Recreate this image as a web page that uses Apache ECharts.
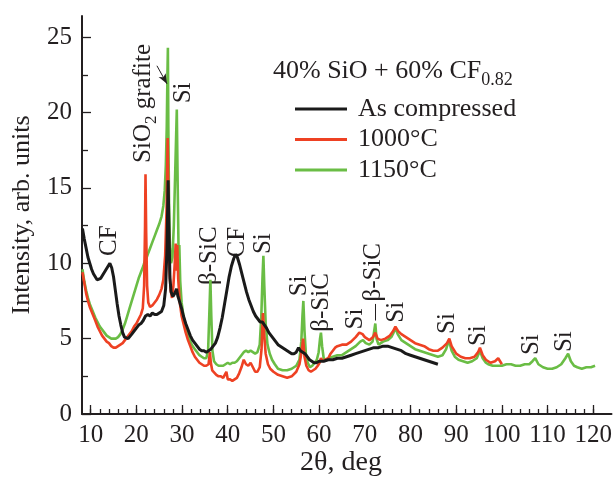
<!DOCTYPE html>
<html><head><meta charset="utf-8">
<script src="https://cdn.jsdelivr.net/npm/echarts@6/dist/echarts.min.js"></script>
<style>html,body{margin:0;padding:0;background:#fff}#c{width:615px;height:479px}</style>
</head><body><div id="c"></div>
<script>
// ---- data (2θ in degrees, intensity in arb. units) ----
const seriesNames = ['As compressed', '1000°C', '1150°C'];
const asCompressed = [[8.2,12.3],[8.6,11.6],[9.0,11.0],[9.4,10.4],[9.8,10.0],[10.2,9.6],[10.6,9.3],[11.0,9.1],[11.4,8.9],[11.8,8.8],[12.2,9.0],[12.6,9.2],[13.0,9.4],[13.4,9.5],[13.8,9.8],[14.2,10.0],[14.6,9.7],[15.0,9.1],[15.4,8.2],[15.8,7.3],[16.2,6.5],[16.6,5.9],[17.0,5.4],[17.4,5.1],[17.8,5.0],[18.2,5.0],[18.6,5.1],[19.0,5.3],[19.5,5.5],[20.0,5.7],[20.5,5.9],[21.0,6.0],[21.5,6.2],[22.0,6.5],[22.5,6.6],[23.0,6.5],[23.5,6.7],[24.0,6.6],[24.5,6.6],[25.0,6.7],[25.5,6.8],[26.0,7.2],[26.4,8.3],[26.7,11.0],[26.95,15.5],[27.15,12.0],[27.35,9.0],[27.6,8.1],[28.0,7.8],[28.4,8.0],[28.8,8.3],[29.1,7.8],[29.5,7.4],[29.9,7.0],[30.3,6.5],[30.8,6.0],[31.3,5.6],[31.8,5.2],[32.3,4.9],[32.8,4.7],[33.3,4.5],[33.8,4.3],[34.3,4.2],[34.8,4.2],[35.3,4.1],[35.8,4.2],[36.3,4.3],[36.8,4.5],[37.3,4.7],[37.8,5.1],[38.3,5.7],[38.8,6.4],[39.3,7.3],[39.8,8.2],[40.3,9.1],[40.8,9.8],[41.3,10.3],[41.7,10.6],[42.1,10.4],[42.6,9.9],[43.1,9.3],[43.6,8.7],[44.1,8.1],[44.6,7.6],[45.1,7.2],[45.6,6.8],[46.1,6.5],[46.6,6.3],[47.1,6.1],[47.6,6.1],[48.0,6.0],[48.5,5.7],[49.0,5.4],[49.5,5.2],[50.0,5.0],[50.5,4.8],[51.0,4.6],[51.5,4.5],[52.0,4.4],[52.5,4.3],[53.0,4.2],[53.5,4.1],[54.0,4.0],[54.5,4.0],[55.0,4.1],[55.5,4.4],[55.9,4.2],[56.4,4.1],[56.9,4.0],[57.4,3.8],[57.9,3.6],[58.4,3.5],[58.9,3.4],[59.4,3.4],[60.0,3.5],[61,3.5],[62,3.6],[63,3.6],[64,3.7],[65,3.7],[66,3.8],[67,3.9],[68,4.0],[69,4.1],[70,4.2],[71,4.3],[72,4.4],[73,4.4],[74,4.5],[75,4.5],[76,4.4],[77,4.3],[78,4.2],[79,4.0],[80,3.9],[81,3.8],[82,3.7],[83,3.6],[84,3.5],[85,3.4],[86,3.3]];
const annealed1000 = [[8.2,9.4],[8.6,8.7],[9.0,8.0],[9.4,7.5],[9.8,7.1],[10.2,6.8],[10.6,6.5],[11.0,6.2],[11.5,5.8],[12.0,5.5],[12.5,5.2],[13.0,5.0],[13.5,4.8],[14.0,4.7],[14.5,4.5],[15.0,4.4],[15.5,4.4],[16.0,4.5],[16.5,4.6],[17.0,4.7],[17.5,4.9],[18.0,5.1],[18.5,5.3],[19.0,5.5],[19.5,5.8],[20.0,6.0],[20.5,6.3],[21.0,6.6],[21.4,7.0],[21.7,8.5],[21.9,12.5],[22.0,15.9],[22.15,12.0],[22.35,8.5],[22.6,7.4],[23.0,7.1],[23.5,7.2],[24.0,7.4],[24.5,7.6],[25.0,7.9],[25.5,8.3],[25.9,8.9],[26.3,10.5],[26.6,13.5],[26.85,18.3],[27.05,13.0],[27.25,9.5],[27.5,8.2],[27.8,7.7],[28.1,8.5],[28.4,10.0],[28.6,11.3],[28.8,9.5],[28.95,11.2],[29.15,9.0],[29.5,7.4],[29.9,6.5],[30.3,6.0],[30.8,5.4],[31.3,4.9],[31.8,4.5],[32.3,4.1],[32.8,3.8],[33.3,3.6],[33.8,3.4],[34.3,3.3],[34.8,3.2],[35.3,3.2],[35.8,3.3],[36.1,4.1],[36.3,3.4],[36.6,2.9],[37.0,2.8],[37.5,2.6],[38.0,2.5],[38.5,2.5],[39.0,2.4],[39.4,2.4],[39.7,2.8],[40.0,2.3],[40.5,2.3],[41.0,2.2],[41.5,2.3],[42.0,2.4],[42.5,2.7],[43.0,3.1],[43.5,3.6],[44.0,3.3],[44.5,3.2],[45.0,3.4],[45.5,3.1],[46.0,2.8],[46.5,2.8],[47.0,3.1],[47.4,4.3],[47.7,6.7],[48.0,5.2],[48.3,4.0],[48.8,3.3],[49.3,3.0],[50.0,2.8],[51.0,2.6],[52.0,2.5],[53.0,2.4],[54.0,2.5],[55.0,2.8],[55.7,3.3],[56.2,4.2],[56.5,5.0],[56.8,3.8],[57.2,3.2],[57.7,2.9],[58.2,2.8],[58.7,2.9],[59.2,3.0],[59.7,3.2],[60.1,3.4],[60.4,3.7],[60.8,3.5],[61.3,3.6],[62.0,3.7],[62.5,4.0],[63.0,4.2],[63.5,4.4],[64.0,4.5],[65.0,4.6],[66.0,4.6],[67.0,4.8],[68.0,5.1],[68.8,5.4],[69.5,5.3],[70.0,5.1],[71.0,4.9],[71.8,5.1],[72.3,5.4],[72.8,5.0],[73.5,4.9],[74.5,5.0],[75.5,5.2],[76.2,5.5],[76.7,5.8],[77.3,5.5],[78.0,5.3],[79.0,5.1],[80.0,4.9],[81.0,4.7],[82.0,4.6],[83.0,4.5],[84.0,4.3],[85.0,4.2],[86.0,4.2],[87.0,4.4],[88.0,4.7],[88.5,5.0],[89.0,4.5],[90.0,4.0],[91.0,3.8],[92.0,3.7],[93.0,3.7],[94.0,3.8],[94.8,4.1],[95.2,4.4],[95.8,3.9],[96.5,3.6],[97.5,3.4],[98.5,3.5],[99.2,3.7],[100.0,3.3]];
const annealed1150 = [[8.2,9.6],[8.6,8.8],[9.0,8.2],[9.4,7.7],[9.8,7.3],[10.2,7.0],[10.6,6.7],[11.0,6.4],[11.5,6.1],[12.0,5.8],[12.5,5.6],[13.0,5.4],[13.5,5.2],[14.0,5.1],[14.5,5.0],[15.0,5.0],[15.5,5.0],[16.0,5.1],[16.5,5.3],[17.0,5.6],[17.5,6.0],[18.0,6.5],[18.5,7.0],[19.0,7.5],[19.5,8.0],[20.0,8.5],[20.5,9.0],[21.0,9.4],[21.5,9.8],[21.9,10.2],[22.0,10.9],[22.15,10.3],[22.5,10.6],[23.0,11.0],[23.5,11.4],[24.0,11.8],[24.5,12.2],[25.0,12.6],[25.5,13.1],[25.9,13.8],[26.2,14.8],[26.45,16.5],[26.65,19.0],[26.8,22.5],[26.9,24.3],[27.0,19.0],[27.15,14.0],[27.35,11.0],[27.6,10.0],[27.9,10.4],[28.2,12.5],[28.5,16.0],[28.85,20.2],[29.05,15.0],[29.25,10.5],[29.4,11.2],[29.6,8.8],[29.9,7.4],[30.3,6.5],[30.8,5.8],[31.3,5.2],[31.8,4.8],[32.3,4.5],[32.8,4.3],[33.3,4.1],[33.8,3.9],[34.3,3.8],[34.8,3.7],[35.3,3.7],[35.7,4.2],[35.95,6.5],[36.2,8.9],[36.4,6.5],[36.65,4.2],[37.0,3.5],[37.5,3.3],[38.0,3.2],[38.5,3.2],[39.0,3.2],[39.5,3.3],[40.0,3.4],[40.5,3.3],[41.0,3.4],[41.5,3.4],[42.0,3.5],[42.5,3.7],[43.0,3.9],[43.5,4.1],[44.0,4.2],[44.5,4.1],[45.0,4.2],[45.5,4.1],[46.0,4.0],[46.5,4.1],[47.0,4.6],[47.35,6.5],[47.6,9.0],[47.8,10.5],[48.0,8.5],[48.3,6.0],[48.7,4.6],[49.2,4.0],[49.7,3.6],[50.3,3.3],[51.0,3.0],[52.0,2.9],[53.0,2.9],[54.0,3.0],[55.0,3.2],[55.7,3.6],[56.1,4.8],[56.35,6.5],[56.55,7.5],[56.8,5.5],[57.1,4.0],[57.5,3.4],[58.0,3.1],[58.5,3.2],[59.0,3.4],[59.5,3.6],[59.9,4.1],[60.2,5.0],[60.4,5.4],[60.65,4.5],[61.0,3.7],[61.5,3.6],[62.0,3.7],[63.0,3.8],[64.0,3.9],[65.0,3.9],[66.0,4.1],[67.0,4.3],[68.0,4.5],[69.0,4.8],[69.6,4.9],[70.2,4.7],[71.0,4.6],[71.7,4.8],[72.05,5.5],[72.3,6.0],[72.55,5.0],[73.0,4.6],[74.0,4.8],[75.0,4.9],[75.8,5.1],[76.3,5.4],[76.7,5.7],[77.2,5.3],[78.0,4.9],[79.0,4.7],[80.0,4.5],[81.0,4.3],[82.0,4.2],[83.0,4.1],[84.0,4.0],[85.0,3.9],[86.0,3.8],[87.0,3.9],[87.8,4.3],[88.4,4.9],[89.0,4.2],[89.7,3.8],[90.5,3.6],[91.5,3.5],[92.5,3.4],[93.5,3.5],[94.5,3.7],[95.2,4.2],[95.8,3.7],[96.5,3.4],[97.0,3.3],[98.0,3.2],[99.0,3.2],[100.0,3.2],[101.0,3.3],[102.0,3.3],[103.0,3.2],[104.0,3.2],[105.0,3.3],[106.0,3.3],[106.7,3.5],[107.3,3.7],[108.0,3.3],[109.0,3.1],[110.0,3.0],[111.0,3.0],[112.0,3.1],[113.0,3.3],[113.9,3.7],[114.5,4.0],[115.1,3.5],[115.8,3.2],[116.5,3.1],[117.5,3.0],[118.5,3.1],[119.5,3.1],[120.4,3.2]];
const xTickLabels = [10,20,30,40,50,60,70,80,90,100,110,120];
const yTickLabels = [0,5,10,15,20,25];
const yMinorTicks = [2.5,7.5,12.5,17.5,22.5];
// peak annotations: [text, 2θ, intensity] (text centre)
const peakLabels = [
  ['CF',14.2,11.5],['Si',30.4,21.3],['β-SiC',36.0,10.5],['CF',42.1,11.4],['Si',47.8,11.3],
  ['Si',55.7,8.5],['β-SiC',60.5,7.4],['Si',67.9,6.3],['β-SiC',71.8,9.4],['Si',77.0,6.75],
  ['Si',88.0,6.0],['Si',94.8,5.2],['Si',106.4,4.6],['Si',113.8,4.8]
];
const sio2Label = ['SiO', '2', ' grafite', 21.5, 20.6];
const arrowFrom = [24.5, 23.1], arrowTo = [26.7, 21.9];
const leaderFrom = [72.35, 7.3], leaderTo = [72.35, 6.2];

// ---- chart ----
const FONT = 'Liberation Serif';
const TXT = '#231f20';
const xMinor = [];
for (let v = 10; v <= 120; v += 2) xMinor.push(v);
const X_MIN = 8.1, X_MAX = 124, Y_MAX = 26.4;

const chart = echarts.init(document.getElementById('c'), null, {renderer: 'canvas'});
const colors = {'As compressed': '#1a1a1a', '1000°C': '#ee4123', '1150°C': '#6abd45'};
const widths = {'As compressed': 3.0, '1000°C': 2.6, '1150°C': 2.6};
function lineSeries(name, data, extra) {
  return Object.assign({
    name, type: 'line', data, symbol: 'none', smooth: false,
    lineStyle: {color: colors[name], width: widths[name]}, itemStyle: {color: colors[name]},
    animation: false, silent: true
  }, extra || {});
}
chart.setOption({
  animation: false,
  grid: {left: 82, top: 16, width: 531, height: 398, containLabel: false},
  xAxis: [{
    type: 'value', min: X_MIN, max: X_MAX,
    axisLine: {show: true, onZero: false, lineStyle: {color: TXT, width: 2}},
    axisTick: {show: true, inside: true, length: 9, customValues: xTickLabels, lineStyle: {color: TXT, width: 1.3}},
    axisLabel: {show: true, customValues: xTickLabels, margin: 9, fontFamily: FONT, fontSize: 25, color: TXT},
    splitLine: {show: false}
  }, {
    type: 'value', min: X_MIN, max: X_MAX, position: 'bottom', gridIndex: 0,
    axisLine: {show: false},
    axisTick: {show: true, inside: true, length: 5, customValues: xMinor, lineStyle: {color: TXT, width: 1.3}},
    axisLabel: {show: false}, splitLine: {show: false}
  }],
  yAxis: [{
    type: 'value', min: 0, max: Y_MAX,
    name: 'Intensity, arb. units', nameLocation: 'middle', nameGap: 47,
    nameTextStyle: {fontFamily: FONT, fontSize: 26, color: TXT},
    axisLine: {show: true, onZero: false, lineStyle: {color: TXT, width: 2}},
    axisTick: {show: true, inside: true, length: 9, customValues: yTickLabels, lineStyle: {color: TXT, width: 1.3}},
    axisLabel: {show: true, customValues: yTickLabels, margin: 10, fontFamily: FONT, fontSize: 25, color: TXT},
    splitLine: {show: false}
  }, {
    type: 'value', min: 0, max: Y_MAX, position: 'left', gridIndex: 0,
    axisLine: {show: false},
    axisTick: {show: true, inside: true, length: 6, customValues: yMinorTicks, lineStyle: {color: TXT, width: 1.3}},
    axisLabel: {show: false}, splitLine: {show: false}
  }],
  legend: {
    data: seriesNames, orient: 'vertical', left: 295, top: 94, padding: 0,
    itemGap: 0.5, itemWidth: 52, itemHeight: 3, icon: 'rect',
    textStyle: {fontFamily: FONT, fontSize: 26, color: TXT, lineHeight: 30, padding: [0, 0, 0, 6]},
    selectedMode: false
  },
  series: [
    lineSeries('1150°C', annealed1150, {
      markLine: {
        silent: true, animation: false, label: {show: false},
        lineStyle: {color: TXT, width: 1, type: 'solid'},
        data: [
          [{coord: arrowFrom, symbol: 'none'}, {coord: arrowTo, symbol: 'arrow', symbolSize: [6, 10]}],
          [{coord: leaderFrom, symbol: 'none'}, {coord: leaderTo, symbol: 'none'}]
        ]
      }
    }),
    lineSeries('1000°C', annealed1000),
    lineSeries('As compressed', asCompressed)
  ]
});

// annotations placed from data coordinates
const graphics = [];
peakLabels.forEach(([t, x, y]) => {
  const p = chart.convertToPixel({xAxisIndex: 0, yAxisIndex: 0}, [x, y]);
  graphics.push({type: 'text', x: p[0], y: p[1], rotation: Math.PI / 2, silent: true,
    style: {text: t, fontFamily: FONT, fontSize: 25, fill: TXT, align: 'center', verticalAlign: 'middle'}});
});
{
  const p = chart.convertToPixel({xAxisIndex: 0, yAxisIndex: 0}, [sio2Label[3], sio2Label[4]]);
  graphics.push({type: 'text', x: p[0], y: p[1], rotation: Math.PI / 2, silent: true,
    style: {text: '{n|' + sio2Label[0] + '}{s|' + sio2Label[1] + '}{n|' + sio2Label[2] + '}',
      align: 'center', verticalAlign: 'middle', fill: TXT,
      rich: {n: {fontFamily: FONT, fontSize: 25, lineHeight: 28, verticalAlign: 'middle', fill: TXT},
             s: {fontFamily: FONT, fontSize: 17, lineHeight: 17, verticalAlign: 'bottom', fill: TXT, padding: [0, 0, -3, 0]}}}});
}
// legend title
graphics.push({type: 'text', left: 273, top: 58, silent: true,
  style: {text: '{n|40% SiO + 60% CF}{s|0.82}', fill: TXT,
    rich: {n: {fontFamily: FONT, fontSize: 26, lineHeight: 30, verticalAlign: 'middle', fill: TXT},
           s: {fontFamily: FONT, fontSize: 18, lineHeight: 18, verticalAlign: 'bottom', fill: TXT, padding: [0, 0, -3, 0]}}}});
// x axis title
graphics.push({type: 'text', x: 341, y: 463, silent: true,
  style: {text: '2θ, deg', fontFamily: FONT, fontSize: 28, fill: TXT, align: 'center', verticalAlign: 'middle'}});
chart.setOption({graphic: graphics});
</script></body></html>
